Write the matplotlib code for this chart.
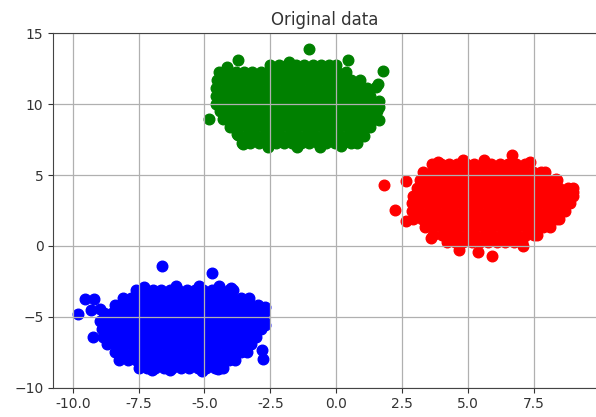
import matplotlib
matplotlib.use("Agg")
import matplotlib.pyplot as plt
import numpy as np

# rows of points (y of the row, x values along it) for each blob
blue_rows_y = [-3.1, -3.65, -4.2, -4.75, -5.3, -5.85, -6.4, -6.95, -7.5, -8.05, -8.6]
blue_rows_x = [
    [-7.6, -7.28, -6.96, -6.64, -6.32, -6.0, -5.68, -5.36, -5.04, -4.72, -4.4, -4.08, -3.9],
    [-8.1, -7.78, -7.46, -7.14, -6.82, -6.5, -6.18, -5.86, -5.54, -5.22, -4.9, -4.58, -4.26, -3.94, -3.62, -3.3],
    [-8.4, -8.08, -7.76, -7.44, -7.12, -6.8, -6.48, -6.16, -5.84, -5.52, -5.2, -4.88, -4.56, -4.24, -3.92, -3.6, -3.28, -2.96],
    [-8.82, -8.52, -8.2, -7.88, -7.56, -7.24, -6.92, -6.6, -6.28, -5.96, -5.64, -5.32, -5.0, -4.68, -4.36, -4.04, -3.72, -3.4, -3.08, -2.76],
    [-8.96, -8.64, -8.32, -8.0, -7.68, -7.36, -7.04, -6.72, -6.4, -6.08, -5.76, -5.44, -5.12, -4.8, -4.48, -4.16, -3.84, -3.52, -3.2, -2.9, -2.74],
    [-8.9, -8.58, -8.26, -7.94, -7.62, -7.3, -6.98, -6.66, -6.34, -6.02, -5.7, -5.38, -5.06, -4.74, -4.42, -4.1, -3.78, -3.46, -3.14, -2.84],
    [-8.84, -8.52, -8.2, -7.88, -7.56, -7.24, -6.92, -6.6, -6.28, -5.96, -5.64, -5.32, -5.0, -4.68, -4.36, -4.04, -3.72, -3.4, -3.06],
    [-8.7, -8.38, -8.06, -7.74, -7.42, -7.1, -6.78, -6.46, -6.14, -5.82, -5.5, -5.18, -4.86, -4.54, -4.22, -3.9, -3.58, -3.22],
    [-8.4, -8.08, -7.76, -7.44, -7.12, -6.8, -6.48, -6.16, -5.84, -5.52, -5.2, -4.88, -4.56, -4.24, -3.92, -3.6, -3.38],
    [-8.24, -7.92, -7.6, -7.28, -6.96, -6.64, -6.32, -6.0, -5.68, -5.36, -5.04, -4.72, -4.4, -4.08, -3.84],
    [-7.5, -7.18, -6.86, -6.54, -6.22, -5.9, -5.58, -5.26, -4.94, -4.62, -4.28],
]
blue_extra_x = [-6.6, -4.72, -7.3, -6.1, -5.2, -4.45, -4.0, -9.53, -9.18, -9.3, -8.95, -9.81,
                -9.22, -2.8, -2.78, -7.0, -6.3, -5.1, -4.5, -2.7, -2.72]
blue_extra_y = [-1.4, -1.9, -2.9, -2.85, -2.8, -2.82, -3.0, -3.74, -3.74, -4.5, -4.45, -4.78,
                -6.43, -7.35, -8.0, -8.75, -8.78, -8.8, -8.72, -5.6, -4.3]

green_rows_y = [12.8, 12.25, 11.7, 11.15, 10.6, 10.05, 9.5, 8.95, 8.4, 7.85, 7.3]
green_rows_x = [
    [-2.5, -2.18, -1.86, -1.54, -1.22, -0.9, -0.58, -0.26, 0.0],
    [-4.45, -4.14, -3.82, -3.5, -3.18, -2.86, -2.54, -2.22, -1.9, -1.58, -1.26, -0.94, -0.62, -0.3, 0.02, 0.36],
    [-4.53, -4.22, -3.9, -3.58, -3.26, -2.94, -2.62, -2.3, -1.98, -1.66, -1.34, -1.02, -0.7, -0.38, -0.06, 0.26, 0.58, 0.9],
    [-4.55, -4.24, -3.92, -3.6, -3.28, -2.96, -2.64, -2.32, -2.0, -1.68, -1.36, -1.04, -0.72, -0.4, -0.08, 0.24, 0.56, 0.88, 1.16],
    [-4.55, -4.26, -3.94, -3.62, -3.3, -2.98, -2.66, -2.34, -2.02, -1.7, -1.38, -1.06, -0.74, -0.42, -0.1, 0.22, 0.54, 0.86, 1.18, 1.3],
    [-4.55, -4.24, -3.92, -3.6, -3.28, -2.96, -2.64, -2.32, -2.0, -1.68, -1.36, -1.04, -0.72, -0.4, -0.08, 0.24, 0.56, 0.88, 1.2, 1.52],
    [-4.41, -4.1, -3.78, -3.46, -3.14, -2.82, -2.5, -2.18, -1.86, -1.54, -1.22, -0.9, -0.58, -0.26, 0.06, 0.38, 0.7, 1.02, 1.34, 1.56],
    [-4.28, -3.96, -3.64, -3.32, -3.0, -2.68, -2.36, -2.04, -1.72, -1.4, -1.08, -0.76, -0.44, -0.12, 0.2, 0.52, 0.84, 1.16, 1.5],
    [-4.03, -3.72, -3.4, -3.08, -2.76, -2.44, -2.12, -1.8, -1.48, -1.16, -0.84, -0.52, -0.2, 0.12, 0.44, 0.76, 1.08, 1.28],
    [-3.71, -3.4, -3.08, -2.76, -2.44, -2.12, -1.8, -1.48, -1.16, -0.84, -0.52, -0.2, 0.12, 0.44, 0.76, 1.03],
    [-3.58, -3.26, -2.94, -2.62, -2.3, -1.98, -1.66, -1.34, -1.02, -0.7, -0.38, -0.06, 0.26, 0.58, 0.78],
]
green_extra_x = [-1.02, -3.71, 0.44, 1.77, 1.51, 1.6, -4.81, -3.75, -3.55, 1.64, 1.64, 1.07,
                 -2.6, -1.5, -0.6, 0.2, -4.15, -1.8, 1.62]
green_extra_y = [13.89, 13.13, 13.13, 12.36, 11.2, 11.45, 8.99, 7.88, 7.17, 9.8, 8.9, 7.76,
                 7.0, 7.0, 6.95, 7.05, 12.6, 13.0, 10.2]

red_rows_y = [5.75, 5.2, 4.65, 4.1, 3.55, 3.0, 2.45, 1.9, 1.35, 0.8, 0.3]
red_rows_x = [
    [3.64, 3.96, 4.28, 4.6, 4.92, 5.24, 5.56, 5.88, 6.2, 6.52, 6.84, 7.16],
    [3.31, 3.62, 3.94, 4.26, 4.58, 4.9, 5.22, 5.54, 5.86, 6.18, 6.5, 6.82, 7.14, 7.46, 7.78, 7.93],
    [3.18, 3.48, 3.8, 4.12, 4.44, 4.76, 5.08, 5.4, 5.72, 6.04, 6.36, 6.68, 7.0, 7.32, 7.64, 7.96, 8.28, 8.37],
    [3.06, 3.34, 3.66, 3.98, 4.3, 4.62, 4.94, 5.26, 5.58, 5.9, 6.22, 6.54, 6.86, 7.18, 7.5, 7.82, 8.14, 8.46, 8.78, 9.0],
    [2.93, 3.22, 3.54, 3.86, 4.18, 4.5, 4.82, 5.14, 5.46, 5.78, 6.1, 6.42, 6.74, 7.06, 7.38, 7.7, 8.02, 8.34, 8.66, 8.98],
    [2.87, 3.18, 3.5, 3.82, 4.14, 4.46, 4.78, 5.1, 5.42, 5.74, 6.06, 6.38, 6.7, 7.02, 7.34, 7.66, 7.98, 8.3, 8.62, 8.88],
    [2.87, 3.16, 3.48, 3.8, 4.12, 4.44, 4.76, 5.08, 5.4, 5.72, 6.04, 6.36, 6.68, 7.0, 7.32, 7.64, 7.96, 8.28, 8.6, 8.69],
    [2.93, 3.24, 3.56, 3.88, 4.2, 4.52, 4.84, 5.16, 5.48, 5.8, 6.12, 6.44, 6.76, 7.08, 7.4, 7.72, 8.04, 8.36, 8.44],
    [3.38, 3.68, 4.0, 4.32, 4.64, 4.96, 5.28, 5.6, 5.92, 6.24, 6.56, 6.88, 7.2, 7.52, 7.84, 8.12],
    [3.69, 4.0, 4.32, 4.64, 4.96, 5.28, 5.6, 5.92, 6.24, 6.56, 6.88, 7.2, 7.52, 7.61],
    [4.2, 4.5, 4.82, 5.14, 5.46, 5.78, 6.1, 6.42, 6.74, 7.06],
]
red_extra_x = [1.83, 2.65, 2.24, 2.66, 3.86, 6.66, 7.34, 8.35, 8.98, 4.66, 5.39, 5.9, 7.08,
               3.6, 4.8, 5.6]
red_extra_y = [4.27, 4.58, 2.57, 1.74, 5.95, 6.44, 5.9, 4.7, 3.78, -0.27, -0.45, -0.68, 0.0,
               0.54, 6.1, 6.05]


def cluster_points(rows_y, rows_x, extra_x, extra_y):
    xs = [x for xr in rows_x for x in xr] + extra_x
    ys = [y for y, xr in zip(rows_y, rows_x) for _ in xr] + extra_y
    return np.array(xs), np.array(ys)


fig = plt.figure(figsize=(5.96, 4.17), dpi=100)
ax = fig.add_axes([0.0894, 0.0707, 0.9123, 0.849])

for rows_y, rows_x, ex, ey, col in [
    (red_rows_y, red_rows_x, red_extra_x, red_extra_y, "red"),
    (green_rows_y, green_rows_x, green_extra_x, green_extra_y, "green"),
    (blue_rows_y, blue_rows_x, blue_extra_x, blue_extra_y, "blue"),
]:
    x, y = cluster_points(rows_y, rows_x, ex, ey)
    ax.scatter(x, y, s=58, c=col, edgecolors=col, linewidths=1.0)

ax.set_xlim(-10.74, 9.9)
ax.set_ylim(-10, 15)
ax.set_xticks([-10.0, -7.5, -5.0, -2.5, 0.0, 2.5, 5.0, 7.5])
ax.set_yticks([-10, -5, 0, 5, 10, 15])
ax.xaxis.set_major_formatter(plt.FormatStrFormatter("%.1f"))
ax.tick_params(labelsize=10, colors="#333333")
ax.grid(True, color="#b0b0b0", linewidth=0.9)
for sp in ax.spines.values():
    sp.set_color("#444444")
ax.set_title("Original data", fontsize=12, color="#333333")

fig.savefig("out.png", dpi=100)
